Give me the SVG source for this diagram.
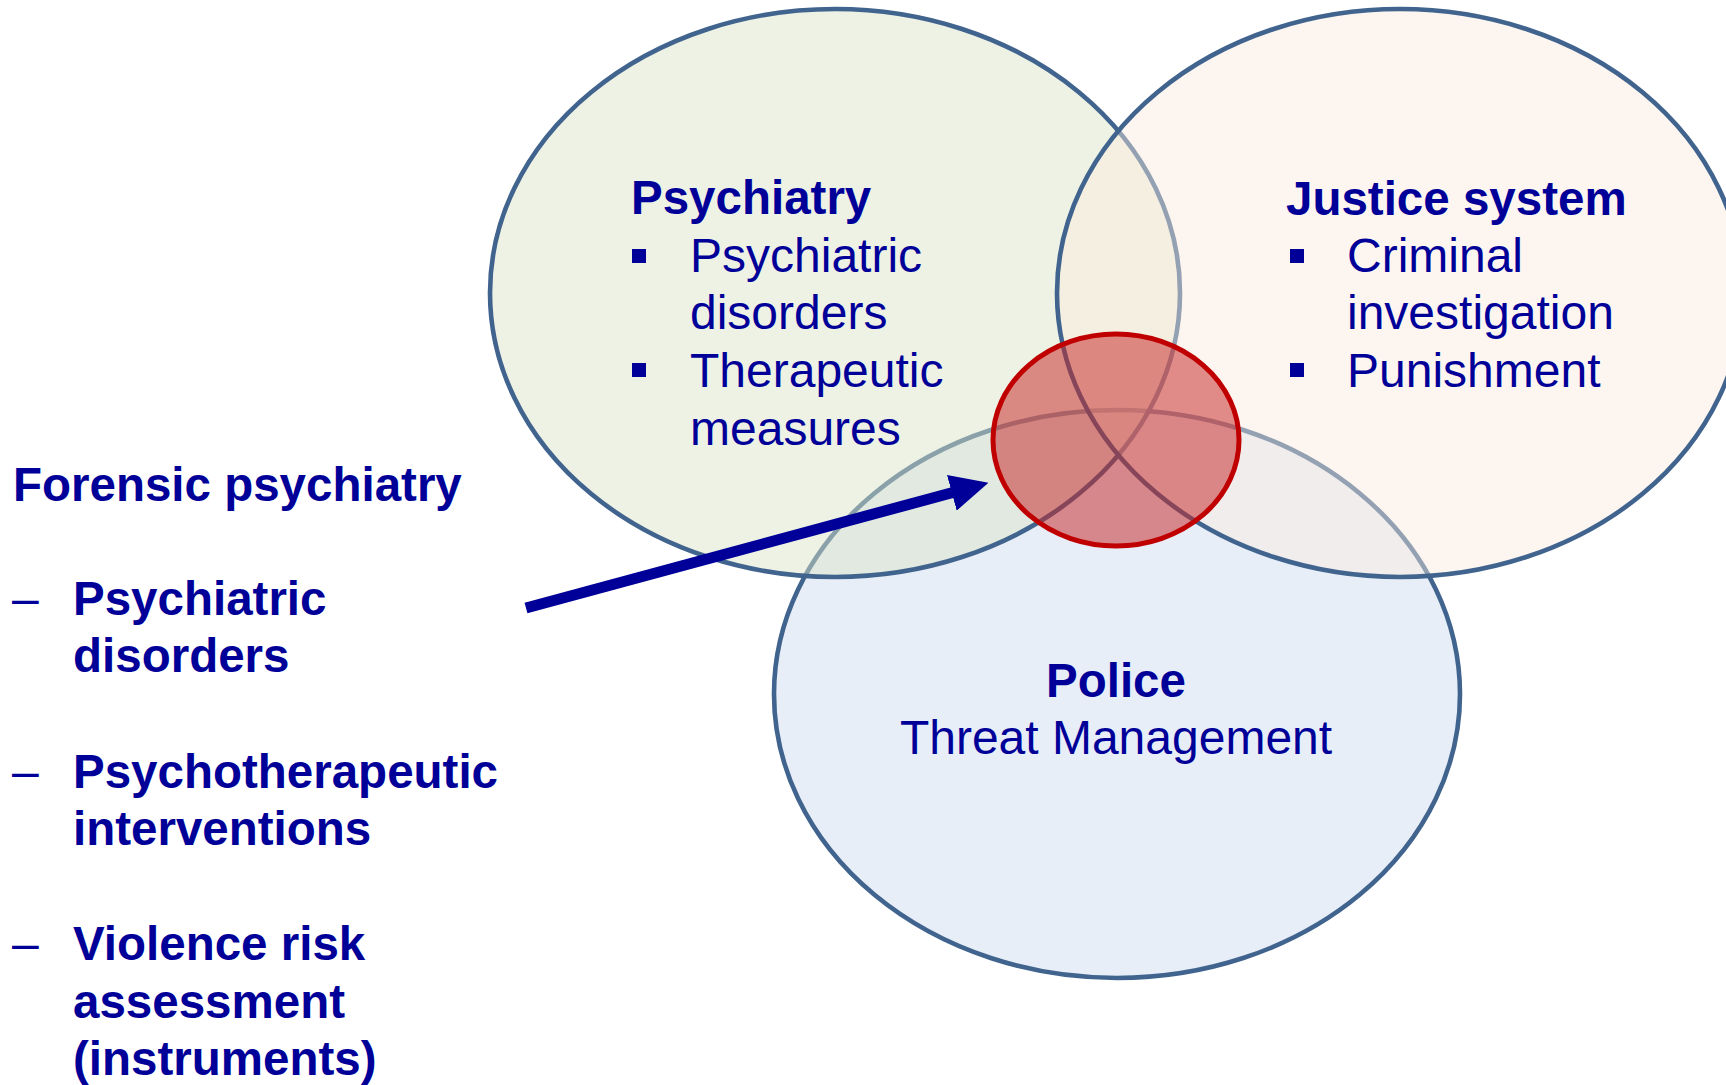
<svg xmlns="http://www.w3.org/2000/svg" width="1726" height="1085" viewBox="0 0 1726 1085">
<defs>
<style>
.ell{stroke:#41648F;stroke-width:4.6}
.t{font-family:"Liberation Sans",Arial,sans-serif;fill:#000099}
.b{font-weight:bold;font-size:47.5px}
.r{font-size:48px}
.bul{fill:#000099}
</style>
<marker id="ah" markerUnits="userSpaceOnUse" markerWidth="38" markerHeight="37" viewBox="0 0 38 37" refX="3" refY="18.5" orient="auto">
<path d="M0,0 L38,18.5 L0,37 Z" fill="#000099"/>
</marker>
</defs>
<rect width="1726" height="1085" fill="#FFFFFF"/>
<g id="police">
<ellipse class="ell" cx="1117" cy="694" rx="343" ry="284" fill="#E7EEF8"/>
<text class="t b" x="1116" y="697" text-anchor="middle">Police</text>
<text class="t r" x="1116" y="754" text-anchor="middle">Threat Management</text>
</g>
<g id="psychiatry">
<ellipse class="ell" cx="835" cy="293" rx="345" ry="284" fill="#DCE4C7" fill-opacity="0.48"/>
<text class="t b" x="631" y="214">Psychiatry</text>
<rect class="bul" x="632" y="249" width="14" height="14"/>
<text class="t r" x="690" y="272">Psychiatric</text>
<text class="t r" x="690" y="329">disorders</text>
<rect class="bul" x="632" y="363" width="14" height="14"/>
<text class="t r" x="690" y="387">Therapeutic</text>
<text class="t r" x="690" y="445">measures</text>
</g>
<g id="justice">
<ellipse class="ell" cx="1400" cy="293" rx="343" ry="284" fill="#FAEBDE" fill-opacity="0.45"/>
<text class="t b" x="1286" y="215">Justice system</text>
<rect class="bul" x="1290" y="249" width="14" height="14"/>
<text class="t r" x="1347" y="272">Criminal</text>
<text class="t r" x="1347" y="329">investigation</text>
<rect class="bul" x="1290" y="363" width="14" height="14"/>
<text class="t r" x="1347" y="387">Punishment</text>
</g>
<g id="intersection">
<ellipse cx="1116" cy="440" rx="123" ry="106" fill="#C82828" fill-opacity="0.52" stroke="#C00000" stroke-width="5"/>
</g>
<g id="connectors">
<line x1="526" y1="608" x2="954.7" y2="492" stroke="#000099" stroke-width="11" marker-end="url(#ah)"/>
</g>
<g id="forensic">
<text class="t b" x="13" y="501">Forensic psychiatry</text>
<text class="t r" x="12" y="615">–</text>
<text class="t b" x="73" y="615">Psychiatric</text>
<text class="t b" x="73" y="672">disorders</text>
<text class="t r" x="12" y="788">–</text>
<text class="t b" x="73" y="788">Psychotherapeutic</text>
<text class="t b" x="73" y="845">interventions</text>
<text class="t r" x="12" y="960">–</text>
<text class="t b" x="73" y="960">Violence risk</text>
<text class="t b" x="73" y="1018">assessment</text>
<text class="t b" x="73" y="1075">(instruments)</text>
</g>
</svg>
